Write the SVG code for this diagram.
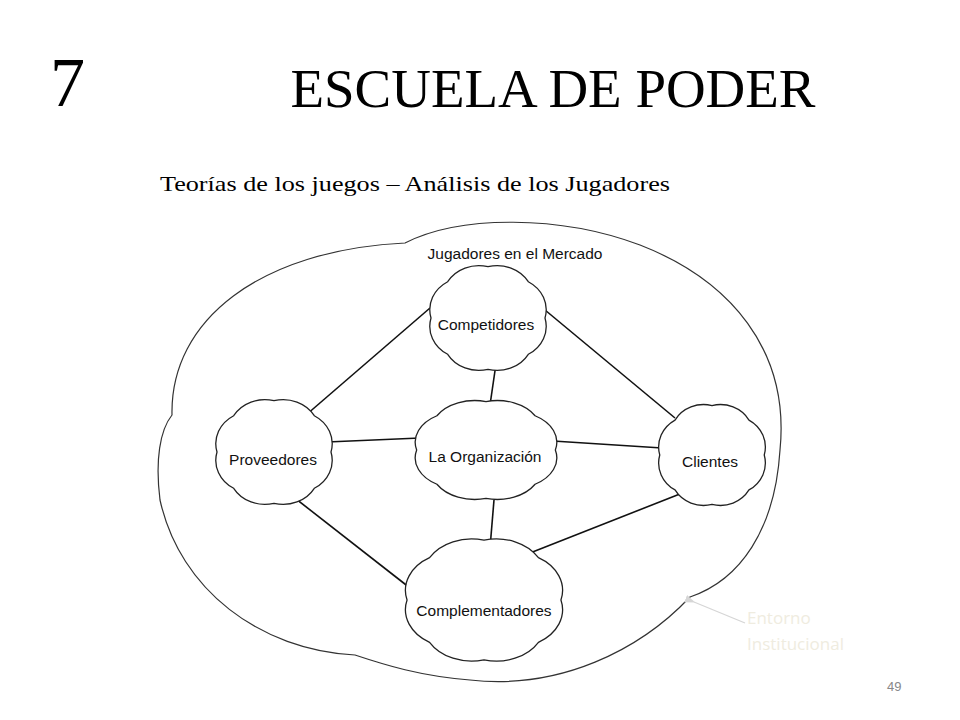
<svg xmlns="http://www.w3.org/2000/svg" xmlns:xlink="http://www.w3.org/1999/xlink" width="960" height="720" viewBox="0 0 960 720">
<style>
.t{font-family:"Liberation Serif",serif;fill:#000}
.s{font-family:"Liberation Sans",Arial,sans-serif;font-size:15.5px;fill:#111;text-anchor:middle}
.c{fill:#fff;stroke:#222;stroke-width:1.3;vector-effect:non-scaling-stroke}
.l{stroke:#111;stroke-width:1.6}
</style>
<defs>
<path id="cloud" class="c" d="M0.95,0 A0.6,0.6 0 0 1 0.672,0.672 A0.6,0.6 0 0 1 0,0.95 A0.6,0.6 0 0 1 -0.672,0.672 A0.6,0.6 0 0 1 -0.95,0 A0.6,0.6 0 0 1 -0.672,-0.672 A0.6,0.6 0 0 1 0,-0.95 A0.6,0.6 0 0 1 0.672,-0.672 A0.6,0.6 0 0 1 0.95,0 Z"/>
<marker id="ar" markerWidth="8" markerHeight="8" refX="1" refY="4" orient="auto"><path d="M8,1 L0,4 L8,7 Z" fill="#d6d6d6"/></marker>
</defs>
<rect width="960" height="720" fill="#fff"/>
<text class="t" x="50" y="106" font-size="70">7</text>
<text class="t" x="553" y="107" font-size="54" text-anchor="middle" textLength="525" lengthAdjust="spacingAndGlyphs">ESCUELA DE PODER</text>
<text class="t" x="160" y="191" font-size="21" textLength="510" lengthAdjust="spacingAndGlyphs">Teorías de los juegos – Análisis de los Jugadores</text>
<g id="entorno">
<path d="M405,243 C460,215 560,215 640,245 C730,280 790,350 780,450 C775,530 740,580 690,597 C640,650 560,690 470,680 C420,676 385,665 355,655 C260,650 180,590 160,500 C155,460 160,430 172,415 C170,320 260,250 405,243 Z" fill="#fff" stroke="#333" stroke-width="1.2"/>
<text class="s" x="515" y="259" font-size="14">Jugadores en el Mercado</text>
</g>
<g id="connectors">
<line class="l" x1="430" y1="308" x2="306" y2="415"/>
<line class="l" x1="545" y1="310" x2="675" y2="418"/>
<line class="l" x1="497" y1="357" x2="490" y2="405"/>
<line class="l" x1="327" y1="442" x2="420" y2="438"/>
<line class="l" x1="553" y1="441" x2="662" y2="448"/>
<line class="l" x1="282" y1="488" x2="410" y2="588"/>
<line class="l" x1="494" y1="500" x2="490" y2="548"/>
<line class="l" x1="690" y1="490" x2="530" y2="553"/>
<line x1="745" y1="623" x2="694" y2="602" stroke="#d6d6d6" stroke-width="1.3" marker-end="url(#ar)"/>
</g>
<g id="competidores"><use xlink:href="#cloud" transform="translate(488,318) scale(60,54)"/><text class="s" x="486" y="330">Competidores</text></g>
<g id="proveedores"><use xlink:href="#cloud" transform="translate(274,452) scale(60,54)"/><text class="s" x="273" y="465">Proveedores</text></g>
<g id="organizacion"><use xlink:href="#cloud" transform="translate(486,450) scale(73,51)"/><text class="s" x="485" y="462">La Organización</text></g>
<g id="clientes"><use xlink:href="#cloud" transform="translate(712,455) scale(55,52)"/><text class="s" x="710" y="467">Clientes</text></g>
<g id="complementadores"><use xlink:href="#cloud" transform="translate(484,600) scale(81,63)"/><text class="s" x="484" y="616">Complementadores</text></g>
<g id="label"><text x="747" y="624" font-family="'Open Sans',sans-serif" font-size="17" fill="#efece0">Entorno</text><text x="747" y="650" font-family="'Open Sans',sans-serif" font-size="17" fill="#efece0">Institucional</text></g>
<text x="887" y="691" font-family="'Liberation Sans',sans-serif" font-size="13" fill="#888">49</text>
</svg>
